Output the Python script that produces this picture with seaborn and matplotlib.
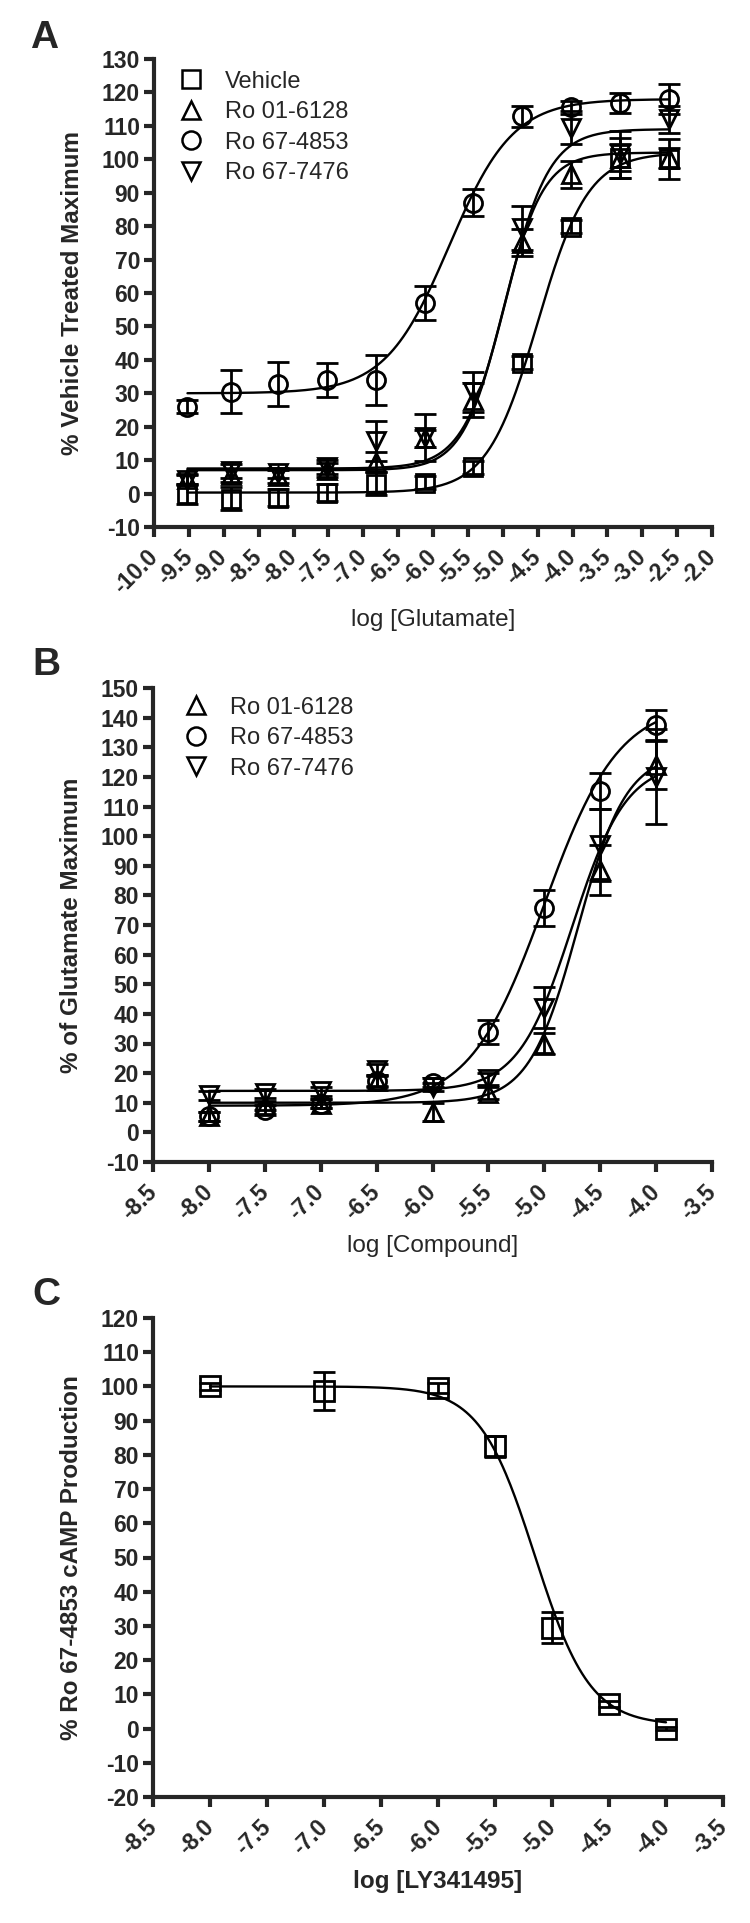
import numpy as np
import pandas as pd
import matplotlib
matplotlib.use("Agg")
import matplotlib.pyplot as plt
from matplotlib.lines import Line2D
import seaborn as sns

sns.set_style("ticks")
plt.rcParams['font.family'] = ['Liberation Sans', 'DejaVu Sans']
plt.rcParams['axes.unicode_minus'] = False

# ---- Panel A: glutamate concentration-response ----
a_x = [-9.52, -8.90, -8.22, -7.52, -6.82, -6.12, -5.42, -4.72, -4.02, -3.32, -2.62]
a_names = ["Vehicle", "Ro 01-6128", "Ro 67-4853", "Ro 67-7476"]
a_markers = ["s", "^", "o", "v"]
a_vehicle = [0.0, -1.5, -1.2, 0.3, 3.0, 3.3, 7.8, 39.2, 79.8, 100.5, 100.2]
a_vehicle_err = [3, 3.5, 2.5, 2.5, 3.5, 2, 2, 2, 2, 6, 6]
a_6128 = [4.5, 5.5, 5.2, 7.0, 9.5, 16.5, 28.0, 75.0, 95.5, 100.5, 100.5]
a_6128_err = [1.5, 2, 2, 2, 3, 2.5, 5, 4, 4, 4, 3]
a_4853 = [26.0, 30.5, 32.8, 34.0, 34.0, 57.0, 87.0, 112.8, 115.5, 116.8, 118.0]
a_4853_err = [2, 6.5, 6.5, 5, 7.5, 5, 4, 3, 2, 3, 4.5]
a_7476 = [4.2, 6.8, 6.2, 8.0, 15.8, 16.8, 30.5, 79.5, 109.5, 101.5, 112.0]
a_7476_err = [1.5, 2, 1.5, 2, 6, 7, 6, 6.5, 5, 7, 4]
# fitted 4PL parameters: bottom, top, logEC50, hill
a_fits = [(0.3, 102, -4.5, 1.2), (7, 102, -5.0, 1.5), (30, 118, -5.77, 0.95), (7.5, 109, -4.95, 1.4)]

# ---- Panel B: compound concentration-response ----
b_x = [-8.0, -7.5, -7.0, -6.5, -6.0, -5.5, -5.0, -4.5, -4.0]
b_names = ["Ro 01-6128", "Ro 67-4853", "Ro 67-7476"]
b_markers = ["^", "o", "v"]
b_6128 = [5.5, 9.0, 9.7, 17.4, 7.0, 13.2, 30.0, 88.5, 124.0]
b_6128_err = [1.5, 1.5, 1.5, 2, 3, 2, 3.5, 8.5, 8]
b_4853 = [5.5, 7.6, 9.7, 17.5, 16.7, 33.9, 75.8, 115.2, 137.5]
b_4853_err = [1.5, 1.5, 1.5, 2, 1.5, 4, 6, 6, 5]
b_7476 = [12.5, 13.2, 13.9, 21.0, 15.3, 18.1, 42.1, 97.0, 120.0]
b_7476_err = [1.5, 1.5, 1.5, 2, 1.5, 2, 7, 12, 16]
b_fits = [(10, 128, -4.7, 2.0), (9, 145, -5.0, 1.3), (14, 125, -4.75, 1.8)]

# ---- Panel C: LY341495 inhibition ----
c_x = [-8.0, -7.0, -6.0, -5.5, -5.0, -4.5, -4.0]
c_y = [100, 98.6, 99.5, 82.5, 29.5, 7.2, 0.0]
c_err = [1, 5.5, 1.5, 3, 4.5, 1, 0.5]
c_fit = (1, 100, -5.15, -1.8)

W, H = 750, 1923
fig = plt.figure(figsize=(W / 100, H / 100), dpi=100)


def box(x0, x1, y0, y1):
    return [x0 / W, 1 - y1 / H, (x1 - x0) / W, (y1 - y0) / H]


def four_pl(x, p):
    b, t, ec, h = p
    return b + (t - b) / (1 + 10 ** (h * (ec - x)))


def style(ax, xlim, ylim, xstep, ystep, xlabel, ylabel, xbold):
    ax.set_xlim(*xlim)
    ax.set_ylim(*ylim)
    ax.set_xticks(np.arange(xlim[0], xlim[1] + 0.01, xstep))
    ax.set_yticks(np.arange(ylim[0], ylim[1] + 0.01, ystep))
    ax.set_xticklabels([f"{v:.1f}" for v in ax.get_xticks()])
    ax.set_yticklabels([f"{v:.0f}" for v in ax.get_yticks()])
    sns.despine(ax=ax)
    for s in ["left", "bottom"]:
        ax.spines[s].set_linewidth(3)
    ax.tick_params(width=3, length=7, labelsize=16.5, pad=3)
    ax.tick_params(axis="x", pad=12)
    for lab in ax.get_xticklabels():
        lab.set_rotation(45)
        lab.set_ha("right")
        lab.set_va("center")
        lab.set_rotation_mode("anchor")
        lab.set_fontweight("bold")
    for lab in ax.get_yticklabels():
        lab.set_fontweight("bold")
    ax.set_xlabel(xlabel, fontsize=17.5, fontweight="bold" if xbold else "normal", labelpad=8)
    ax.set_ylabel(ylabel, fontsize=17.5, fontweight="bold", labelpad=13)


def draw(ax, xs, ys, errs, marker, fit, ms=13):
    xx = np.linspace(min(xs), max(xs), 300)
    sns.lineplot(x=xx, y=four_pl(xx, fit), ax=ax, color="black", lw=1.7)
    ax.errorbar(xs, ys, yerr=errs, fmt=marker, ms=ms, mfc="none", mec="black",
                mew=2, ecolor="black", elinewidth=2, capsize=8, capthick=2, zorder=3)


def legend(ax, names, markers, anchor):
    handles = [Line2D([], [], marker=m, ls="none", ms=13, mfc="none", mec="black", mew=1.8)
               for m in markers]
    ax.legend(handles, names, loc="upper left", bbox_to_anchor=anchor, frameon=False,
              fontsize=17, handletextpad=0.95, labelspacing=0.36, borderpad=0,
              handlelength=1.0, borderaxespad=0)


# Panel A
axA = fig.add_axes(box(154, 712, 59, 527))
for ys, es, m, f in zip([a_vehicle, a_6128, a_4853, a_7476],
                        [a_vehicle_err, a_6128_err, a_4853_err, a_7476_err], a_markers, a_fits):
    draw(axA, a_x, ys, es, m, f)
style(axA, (-10, -2), (-10, 130), 0.5, 10, "log [Glutamate]", "% Vehicle Treated Maximum", False)
legend(axA, a_names, a_markers, (0.045, 0.975))
fig.text(30 / W, 1 - 48 / H, "A", fontsize=28, fontweight="bold")

# Panel B
axB = fig.add_axes(box(153, 712, 688, 1162))
for ys, es, m, f in zip([b_6128, b_4853, b_7476], [b_6128_err, b_4853_err, b_7476_err],
                        b_markers, b_fits):
    draw(axB, b_x, ys, es, m, f)
style(axB, (-8.5, -3.5), (-10, 150), 0.5, 10, "log [Compound]", "% of Glutamate Maximum", False)
legend(axB, b_names, b_markers, (0.055, 0.982))
fig.text(32 / W, 1 - 675 / H, "B", fontsize=28, fontweight="bold")

# Panel C
axC = fig.add_axes(box(153, 723, 1318, 1797))
draw(axC, c_x, c_y, c_err, "s", c_fit, ms=15)
style(axC, (-8.5, -3.5), (-20, 120), 0.5, 10, "log [LY341495]", "% Ro 67-4853 cAMP Production", True)
fig.text(32 / W, 1 - 1305 / H, "C", fontsize=28, fontweight="bold")

fig.savefig("out.png", dpi=100, facecolor="white")
